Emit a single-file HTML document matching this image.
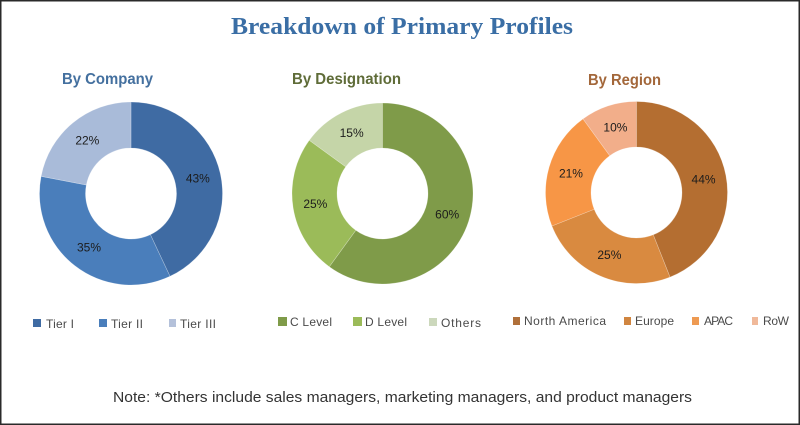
<!DOCTYPE html>
<html lang="en">
<head>
<meta charset="utf-8">
<title>Breakdown of Primary Profiles</title>
<style>
html,body{margin:0;padding:0;background:#fff;}
#frame{display:block;width:800px;height:425px;filter:blur(0.3px);}
text{font-family:"Liberation Sans",sans-serif;}
.legend-text{font-size:12px;fill:#4a4a4a;}
.pie-label{font-size:12px;fill:#1c1c1c;text-anchor:middle;}
.sub{font-size:15.5px;font-weight:bold;}
</style>
</head>
<body>
<svg id="frame" xmlns="http://www.w3.org/2000/svg" width="800" height="425" viewBox="0 0 800 425">
  <rect x="0.75" y="0.75" width="798.5" height="423.5" fill="#fff" stroke="#2a2a2a" stroke-width="1.5"/>
  <text x="231" y="34" textLength="342" lengthAdjust="spacingAndGlyphs" style="font-family:'Liberation Serif',serif;font-size:24px;font-weight:bold;fill:#3a6ea5;">Breakdown of Primary Profiles</text>

  <text class="sub" x="62" y="84" textLength="91" lengthAdjust="spacingAndGlyphs" fill="#44709f">By Company</text>
  <text class="sub" x="292" y="84" textLength="109" lengthAdjust="spacingAndGlyphs" fill="#5f6c38">By Designation</text>
  <text class="sub" x="588" y="85" textLength="73" lengthAdjust="spacingAndGlyphs" fill="#a3673a">By Region</text>

  <g id="donut-company"></g>
  <g id="donut-designation"></g>
  <g id="donut-region"></g>

  <g>
    <rect x="33" y="319" width="8" height="8" fill="#3f6ba3"/>
    <text class="legend-text" x="46" y="328" textLength="28" lengthAdjust="spacing">Tier I</text>
    <rect x="99" y="319" width="8" height="8" fill="#4a7ebb"/>
    <text class="legend-text" x="111" y="328" textLength="32" lengthAdjust="spacing">Tier II</text>
    <rect x="169" y="319" width="7" height="8" fill="#b4c1da"/>
    <text class="legend-text" x="180" y="328" textLength="36" lengthAdjust="spacing">Tier III</text>
  </g>
  <g>
    <rect x="278" y="317" width="9" height="9" fill="#7f9b49"/>
    <text class="legend-text" x="290" y="326" textLength="42" lengthAdjust="spacing">C Level</text>
    <rect x="353" y="317" width="9" height="9" fill="#9bbb59"/>
    <text class="legend-text" x="365" y="326" textLength="42" lengthAdjust="spacing">D Level</text>
    <rect x="429" y="318" width="8" height="8" fill="#ccd8bc"/>
    <text class="legend-text" x="441" y="327" textLength="40" lengthAdjust="spacing">Others</text>
  </g>
  <g>
    <rect x="513" y="317" width="7" height="8" fill="#b0703a"/>
    <text class="legend-text" x="524" y="325" textLength="82" lengthAdjust="spacing">North America</text>
    <rect x="624" y="317" width="7" height="8" fill="#d08540"/>
    <text class="legend-text" x="635" y="325" textLength="39" lengthAdjust="spacing">Europe</text>
    <rect x="692" y="317" width="7" height="8" fill="#ee9a52"/>
    <text class="legend-text" x="704" y="325" textLength="29" lengthAdjust="spacing">APAC</text>
    <rect x="752" y="317" width="6" height="8" fill="#f0b99a"/>
    <text class="legend-text" x="763" y="325" textLength="26" lengthAdjust="spacing">RoW</text>
  </g>

  <text x="113" y="402" textLength="579" lengthAdjust="spacingAndGlyphs" style="font-size:14.5px;fill:#333;">Note: *Others include sales managers, marketing managers, and product managers</text>
</svg>
<script>
const companyCategories = ['Tier I', 'Tier II', 'Tier III'];
const companyValues = [43, 35, 22];
const designationCategories = ['C Level', 'D Level', 'Others'];
const designationValues = [60, 25, 15];
const regionCategories = ['North America', 'Europe', 'APAC', 'RoW'];
const regionValues = [44, 25, 21, 10];

const companyColors = ['#3f6ba3', '#4a7ebb', '#a9bbd9'];
const designationColors = ['#7f9b49', '#9bbb59', '#c5d5a8'];
const regionColors = ['#b46e31', '#d98a40', '#f79646', '#f2ae8a'];

const SVG_NS = 'http://www.w3.org/2000/svg';

function angleScale(value, total) {
  return (value / total) * Math.PI * 2;
}
function polar(cx, cy, r, a) {
  return [cx + r * Math.sin(a), cy - r * Math.cos(a)];
}
function slug(s) {
  return s.toLowerCase().replace(/[^a-z0-9]+/g, '-');
}
function drawDonut(groupId, categories, values, colors, cx, cy, outer, inner) {
  const g = document.getElementById(groupId);
  const total = values.reduce(function (a, b) { return a + b; }, 0);
  let start = 0;
  values.forEach(function (v, i) {
    const sweep = angleScale(v, total);
    const end = start + sweep;
    const large = sweep > Math.PI ? 1 : 0;
    const p1 = polar(cx, cy, outer, start);
    const p2 = polar(cx, cy, outer, end);
    const p3 = polar(cx, cy, inner, end);
    const p4 = polar(cx, cy, inner, start);
    const path = document.createElementNS(SVG_NS, 'path');
    path.setAttribute('d', 'M' + p1[0] + ' ' + p1[1] +
      'A' + outer + ' ' + outer + ' 0 ' + large + ' 1 ' + p2[0] + ' ' + p2[1] +
      'L' + p3[0] + ' ' + p3[1] +
      'A' + inner + ' ' + inner + ' 0 ' + large + ' 0 ' + p4[0] + ' ' + p4[1] + 'Z');
    path.setAttribute('fill', colors[i]);
    path.setAttribute('stroke', '#fff');
    path.setAttribute('stroke-opacity', '0.35');
    path.setAttribute('stroke-width', '0.6');
    
    
    g.appendChild(path);

    const mid = start + sweep / 2;
    const lp = polar(cx, cy, (outer + inner) / 2, mid);
    const t = document.createElementNS(SVG_NS, 'text');
    t.setAttribute('x', lp[0]);
    t.setAttribute('y', lp[1] + 4);
    t.setAttribute('class', 'pie-label');
    
    
    t.textContent = v + '%';
    g.appendChild(t);
    start = end;
  });
}

drawDonut('donut-company', companyCategories, companyValues, companyColors, 131, 193.5, 91.5, 45.5);
drawDonut('donut-designation', designationCategories, designationValues, designationColors, 382.5, 193.5, 90.5, 45.5);
drawDonut('donut-region', regionCategories, regionValues, regionColors, 636.5, 192.5, 91, 45.5);
</script>
</body>
</html>
